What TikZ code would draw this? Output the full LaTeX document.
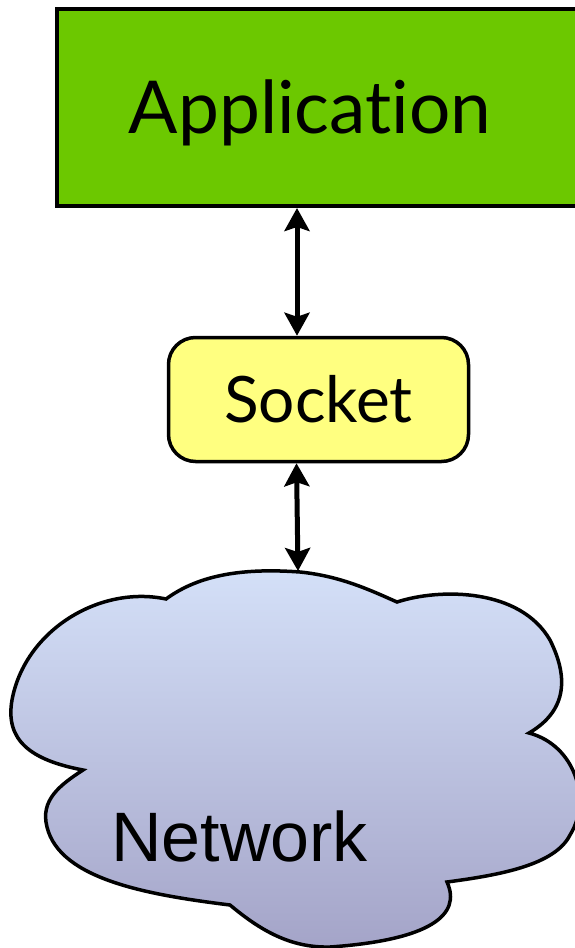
\documentclass[tikz,border=0pt]{standalone}
\usepackage{fontspec}
\usetikzlibrary{arrows.meta}
\newfontfamily\gillfont[Ligatures=NoCommon]{Lato}
\newfontfamily\arialfont{Liberation Sans}
\definecolor{appgreen}{RGB}{108,200,0}
\definecolor{sockyellow}{RGB}{255,255,128}
\definecolor{cloudtop}{RGB}{212,224,248}
\definecolor{cloudbot}{RGB}{164,164,200}

\begin{document}
\begin{tikzpicture}[x=1pt,y=-1pt,
    appbox/.style={draw,line width=4pt,fill=appgreen,inner sep=0pt},
    sockbox/.style={draw,line width=3.5pt,fill=sockyellow,rounded corners=27pt,inner sep=0pt},
    link/.style={line width=5pt,{Stealth[length=23pt,width=25pt,inset=4pt]}-{Stealth[length=23pt,width=25pt,inset=4pt]}}]

  \useasboundingbox (0,0) rectangle (574,948);

  \node[appbox,minimum width=526pt,minimum height=197.5pt,
        label={[xshift=-9.5pt,yshift=-6pt,font=\gillfont\fontsize{73}{80}\selectfont]center:Application}]
        (app) at (319.5,107.25) {};
  \node[sockbox,minimum width=300pt,minimum height=124pt,font=\gillfont\fontsize{64}{70}\selectfont]
        (sock) at (318.5,399.5) {Socket};

  % cloud outline, cusps clockwise from top left
  \path[draw,line width=3.5pt,top color=cloudtop,bottom color=cloudbot]
    (166,599) .. controls (200,574) and (245,568) .. (300,572)
              .. controls (340,576) and (370,590) .. (397,602)      % top bump
              .. controls (440,588) and (520,588) .. (550,640)
              .. controls (570,680) and (565,712) .. (529,733)      % right upper bump
              .. controls (575,745) and (592,800) .. (570,835)
              .. controls (555,865) and (500,875) .. (447,882)      % right lower bump
              .. controls (462,915) and (430,940) .. (330,947)
              .. controls (290,948) and (260,930) .. (230,905)      % bottom bump
              .. controls (150,895) and (60,880) .. (47,827)
              .. controls (40,800) and (60,785) .. (83,770)         % left lower bump
              .. controls (30,760) and (5,740) .. (12,700)
              .. controls (25,630) and (100,585) .. (166,599)       % left bump
    -- cycle;
  \coordinate (net) at (298,571);
  \node[font=\arialfont\fontsize{70}{80}\selectfont,anchor=base west,inner sep=0pt]
        (nettext) at (111,861) {Network};

  \draw[link] ([xshift=-21.5pt]sock.north) -- ([xshift=-21.5pt]sock.north |- app.south);
  \draw[link] ([xshift=-22pt]sock.south) -- (net);

\end{tikzpicture}
\end{document}
